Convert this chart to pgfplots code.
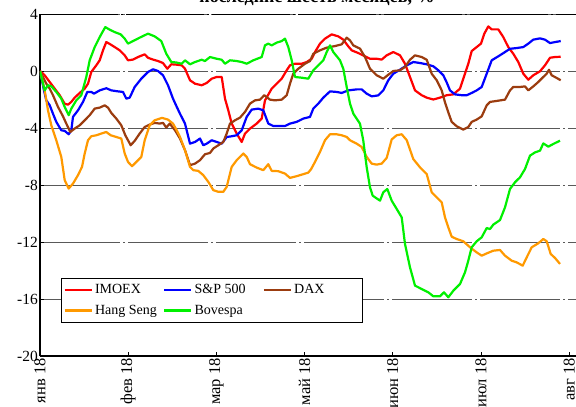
\documentclass[border=0pt]{standalone}
\usepackage{pgfplots}
\pgfplotsset{compat=1.18}
\usepackage{fontspec}
\setmainfont{Liberation Serif}
\definecolor{cimoex}{RGB}{255,0,0}
\definecolor{csp}{RGB}{0,0,255}
\definecolor{cdax}{RGB}{155,60,15}
\definecolor{chs}{RGB}{255,153,0}
\definecolor{cbov}{RGB}{0,240,0}
\begin{document}
\begin{tikzpicture}
\begin{axis}[
  scale only axis, width=540pt, height=342pt,
  xmin=0, xmax=540, ymin=-20, ymax=4,
  axis x line*=bottom, axis y line*=left,
  axis line style={black, line width=1.3pt, -},
  ytick={-20,-16,-12,-8,-4,0,4},
  yticklabels={-20,-16,-12,-8,-4,0,4},
  xtick={0,88.2,176.4,264.6,352.8,441,529.2},
  xticklabels={янв 18,фев 18,мар 18,май 18,июн 18,июл 18,авг 18},
  xticklabel style={rotate=90, anchor=east, font=\fontsize{16.5}{16.5}\selectfont, inner sep=2pt},
  yticklabel style={font=\fontsize{15.5}{15.5}\selectfont, inner sep=2pt},
  tick align=inside, major tick length=4pt, tick style={black, line width=0.8pt},
  ymajorgrids,
  grid style={gray!70!black, line width=0.9pt, dash pattern=on 80pt off 3pt on 2pt off 3pt},
  legend columns=3,
  legend cell align=left,
  legend style={at={(0.0389,0.228)}, anchor=north west, draw=black, line width=0.8pt,
    font=\fontsize{14}{14}\selectfont, inner xsep=2pt, inner ysep=4pt,
    row sep=6pt,
    /tikz/every even column/.append style={column sep=2pt}},
  legend image code/.code={\draw[#1, line width=2.6pt] (0pt,0pt) -- (27pt,0pt);},
  every axis plot/.append style={line width=2.2pt, line join=round, no markers},
]
\addplot[cimoex] coordinates {
(0,0) (4.7,-0.3) (9.7,-0.77) (14.7,-1.24) (19.7,-1.7) (24.7,-2.3) (28,-2.36) (31.3,-2.17)
(34.7,-1.87) (39.7,-1.54) (44.7,-1.24) (48,-0.89) (51.3,-0.07) (56.3,0.4) (59.7,0.75)
(63,1.45) (66.3,2.03) (69.7,1.9) (74.7,1.68) (79.7,1.45) (84.7,1.1) (88,0.75) (93,0.8)
(98,0.98) (104.7,1.17) (108,0.93) (113,0.8) (118,0.7) (123,0.56) (127.3,0.16) (131.3,0.47)
(136,0.45) (141.7,0.4) (145,0.16) (150,-0.65) (155,-0.89) (161.7,-1.0) (166.7,-0.84)
(171.7,-0.54) (176.7,-0.42) (181.7,-0.42) (185,-1.94) (188.3,-2.76) (191.7,-3.69)
(196.7,-4.39) (201.7,-4.98) (205,-4.39) (210,-4.04) (216.7,-3.69) (221.7,-3.34) (225,-2.06)
(231.7,-1.24) (236.7,-0.89) (241.7,-0.54) (246.7,0.05) (250,0.4) (255,0.51) (261.7,0.51)
(266.7,0.63) (271.7,0.86) (275,1.33) (280,1.92) (285,2.27) (291.7,2.57) (298.3,2.43)
(303.3,2.2) (308.3,1.73) (311.7,1.45) (318.3,1.26) (325,1.03) (330,0.86) (336.7,0.86)
(341.7,0.8) (346.7,1.1) (353.3,1.33) (360,1.1) (365,0.51) (370,-0.42) (375,-1.36)
(381.7,-1.7) (386.7,-1.87) (393.3,-2.0) (400,-1.87) (406.7,-1.7) (413.3,-1.64) (420,-1.24)
(423.3,-0.54) (428.3,0.51) (431.7,1.4) (436.7,1.68) (441,1.92) (444.3,2.62) (448.3,3.13)
(451.7,2.92) (458.3,2.92) (463.3,2.38) (468.3,1.68) (473.3,1.21) (478.3,0.63) (483.3,-0.19)
(488.3,-0.61) (493.3,-0.3) (500,-0.02) (505,0.4) (510,0.93) (515,0.98) (520.7,1.0)
};
\addlegendentry{\makebox[64pt][l]{IMOEX}}
\addplot[csp] coordinates {
(0,0) (4,-1.36) (6.3,-2.06) (9.7,-2.4) (13,-3.0) (16.3,-3.57) (21.3,-4.16) (24.7,-4.2)
(28.7,-4.44) (31.3,-4.16) (33,-3.22) (38,-2.76) (43,-2.17) (47.3,-1.47) (51.3,-1.47)
(54,-1.59) (59.7,-1.36) (66.3,-1.21) (71.3,-1.36) (78,-1.43) (83,-1.47) (86.3,-1.94)
(89.7,-1.87) (94.7,-1.12) (101.3,-0.54) (108,-0.07) (113,0.12) (118,0) (123,-0.3)
(128,-1.0) (133,-1.94) (136,-2.4) (140,-3.0) (145,-3.69) (150,-5.1) (155,-4.98) (160,-4.74)
(163.3,-5.21) (166.7,-5.1) (171.7,-4.86) (176.7,-4.98) (181.7,-5.1) (186.7,-4.63)
(191.7,-4.58) (196.7,-4.51) (201.7,-4.16) (206.7,-3.22) (211.7,-2.71) (218.3,-2.64)
(223.3,-2.76) (228.3,-3.69) (233.3,-3.86) (240,-3.86) (245,-3.86) (250,-3.69) (256.7,-3.57)
(263.3,-3.34) (270,-3.22) (273.3,-2.64) (278.3,-2.29) (283.3,-1.87) (290,-1.43)
(296.7,-1.47) (301.7,-1.54) (308.3,-1.36) (316.7,-1.29) (321.7,-1.29) (326.7,-1.59)
(331.7,-1.78) (338.3,-1.71) (343.3,-1.36) (348.3,-0.65) (353.3,-0.19) (360,0.09)
(366.7,0.4) (373.3,0.63) (380,0.56) (386.7,0.47) (393.3,0.33) (398.3,0.05) (403.3,-0.3)
(406.7,-0.8) (410,-1.36) (415,-1.64) (421.7,-1.7) (426.7,-1.7) (431.7,-1.54) (436.7,-1.36)
(441.7,-1.12) (446.7,-0.19) (451.7,0.75) (458.3,1.03) (465,1.33) (470,1.56) (476.7,1.61)
(483.3,1.68) (488.3,1.92) (493.3,2.2) (500,2.29) (505,2.2) (510,1.96) (515,2.03) (520.7,2.1)
};
\addlegendentry{\makebox[64pt][l]{S\&P 500}}
\addplot[cdax] coordinates {
(0,0) (6.3,-0.89) (9.7,-1.24) (13,-1.7) (18,-2.52) (23,-3.18) (26.3,-3.69) (30.3,-4.28)
(34.7,-4.04) (39.7,-3.81) (44.7,-3.46) (49.7,-3.1) (54.7,-2.64) (59.7,-2.57) (64.7,-2.41)
(68,-2.57) (71.3,-2.94) (76.3,-3.34) (81.3,-3.81) (85.3,-4.51) (90.7,-5.21) (94.7,-4.9)
(99.7,-4.39) (104.7,-3.93) (109.7,-3.76) (114.7,-3.64) (119.7,-3.69) (123,-3.64)
(126.3,-3.97) (129.7,-3.69) (135,-4.16) (140,-4.74) (145,-5.56) (150,-6.61) (155,-6.5)
(160,-6.26) (165,-5.84) (170,-5.75) (173.3,-5.44) (178.3,-5.21) (183.3,-4.98) (186.7,-4.39)
(190,-3.69) (195,-3.46) (200,-3.27) (205,-2.87) (210,-2.29) (215,-2.06) (220,-2.01)
(224.3,-1.7) (230,-2.01) (235,-2.06) (241.7,-2.01) (246.7,-1.7) (250,-0.89) (253.3,-0.19)
(258.3,0.16) (265,0.51) (270,0.7) (273.3,1.21) (280,1.45) (286.7,1.64) (295,1.75)
(301.7,1.87) (306.7,2.34) (310,2.15) (313.3,1.8) (320,1.57) (325,0.98) (330,0.16)
(336.7,-0.3) (343.3,-0.54) (348.3,-0.26) (353.3,0) (360,0.05) (365,0.28) (370,0.79)
(375,1.1) (381.7,0.98) (386.7,0.79) (391.7,-0.19) (396.7,-0.65) (401.7,-1.36) (405,-2.2)
(408.3,-2.9) (411.7,-3.57) (416.7,-3.88) (423.3,-4.11) (428.3,-3.93) (431.7,-3.57)
(436.7,-3.41) (441.7,-3.18) (446.7,-2.41) (450,-2.17) (456.7,-2.1) (465,-2.01) (470,-1.36)
(473.3,-1.12) (480,-1.12) (485,-1.08) (488.3,-1.36) (493.3,-1.08) (498.3,-0.77)
(503.3,-0.42) (506.7,-0.19) (509,0.09) (511.7,-0.3) (516.7,-0.49) (520.7,-0.65)
};
\addlegendentry{\makebox[64pt][l]{DAX}}
\addplot[chs] coordinates {
(0,0) (4.7,-1.36) (8,-2.76) (11.3,-3.81) (16.3,-4.86) (21.3,-6.03) (24.7,-7.66) (28.7,-8.25)
(33,-7.9) (38,-7.31) (42,-6.73) (44.7,-5.79) (48,-4.86) (51.3,-4.58) (56.3,-4.51)
(61.3,-4.39) (66.3,-4.28) (70.7,-4.51) (76.3,-4.63) (81.3,-4.74) (84.7,-5.79) (88,-6.38)
(92,-6.68) (96.3,-6.38) (101.3,-6.03) (104.7,-4.86) (109.7,-3.81) (114.7,-3.46) (122,-3.29)
(128,-3.41) (133,-3.69) (136.3,-4.1) (140,-4.63) (145,-5.56) (150,-6.73) (153.3,-6.96)
(158.3,-7.01) (163.3,-7.31) (168.3,-7.78) (173.3,-8.36) (178.3,-8.48) (183.3,-8.48)
(186.7,-8.13) (191.7,-6.73) (196.7,-6.26) (203.3,-5.79) (206.7,-6.03) (210,-6.54)
(216.7,-6.78) (223.3,-6.96) (228.3,-6.54) (231.7,-7.01) (238.3,-7.03) (245,-7.2) (250,-7.5)
(256.7,-7.38) (263.3,-7.24) (268.3,-7.13) (271,-6.9) (275,-6.38) (280,-5.68) (285,-4.86)
(290,-4.44) (296.7,-4.44) (301.7,-4.51) (306.7,-4.63) (310,-4.86) (316.7,-5.1)
(321.7,-5.33) (326.7,-6.03) (331.7,-6.5) (336.7,-6.57) (341.7,-6.5) (346.7,-6.1)
(351.7,-4.8) (356.7,-4.51) (361.7,-4.44) (366.7,-4.85) (373.3,-6.18) (380,-6.76)
(386.7,-7.23) (391.7,-8.51) (395,-8.75) (401.7,-9.22) (405,-10.27) (408.3,-10.97)
(411.7,-11.63) (416.7,-11.79) (423.3,-11.95) (430,-12.37) (436.7,-12.73) (441.7,-12.96)
(446.7,-12.8) (453.3,-12.61) (460,-12.56) (465,-12.96) (471.7,-13.31) (476.7,-13.43)
(482.7,-13.66) (486.7,-13.08) (491.7,-12.37) (498.3,-12.09) (503.3,-11.79) (506.7,-11.95)
(510.7,-12.84) (515,-13.12) (520,-13.54)
};
\addlegendentry{\makebox[64pt][l]{Hang Seng}}
\addplot[cbov] coordinates {
(0,0) (4.7,-1.36) (8,-1.0) (11.3,-1.07) (16.3,-1.47) (21.3,-1.94) (24.7,-2.52) (28.7,-3.1)
(31.3,-2.64) (36.3,-2.06) (41.3,-1.7) (46.3,-0.42) (49.7,0.75) (54.7,1.68) (59.7,2.38)
(63,2.8) (65.3,3.08) (69.7,2.9) (74.7,2.73) (80.7,2.57) (84.7,2.27) (88,1.92) (93,2.1)
(99.7,2.34) (108,2.62) (114.7,2.43) (121.3,2.1) (126.3,1.21) (131.3,0.63) (136,0.6)
(141.7,0.51) (145,0.75) (150,0.47) (155,0.63) (161.7,0.79) (165,0.7) (170,0.98)
(176.7,0.86) (181.7,0.79) (185,0.51) (190,0.75) (196.7,0.7) (201.7,0.63) (206.7,0.51)
(213.3,0.75) (221.7,0.98) (225,1.8) (228.3,1.92) (231.7,1.8) (236.7,1.99) (241.7,2.1)
(245,2.27) (248.3,1.68) (251.7,0.75) (255,-0.42) (261.7,-0.47) (268.3,-0.54) (273.3,0.05)
(278.3,0.4) (283.3,0.75) (286.7,1.33) (290,1.8) (293.3,1.33) (300,0.75) (303.3,0.16)
(306.7,-1.12) (310,-2.29) (313.3,-2.99) (320,-3.7) (323.3,-4.89) (326.7,-6.76) (330,-8.16)
(332.7,-8.75) (340,-9.1) (343.3,-8.51) (347.3,-8.28) (351.7,-9.1) (356.7,-9.68)
(361.7,-10.27) (365,-12.14) (370,-13.78) (375,-15.06) (381.7,-15.3) (388.3,-15.53)
(393.3,-15.81) (400,-15.81) (404,-15.53) (408.3,-15.88) (413.3,-15.42) (420,-14.95)
(425,-14.13) (428.3,-13.31) (431.7,-12.37) (436.7,-11.95) (441.7,-11.67) (446.7,-11.02)
(450,-11.09) (453.3,-10.78) (460,-10.46) (465,-9.57) (470,-8.28) (475,-7.81) (480,-7.46)
(485,-6.88) (490,-5.94) (495,-5.71) (500,-5.59) (503.3,-5.08) (508.3,-5.31) (513.3,-5.12)
(520,-4.89)
};
\addlegendentry{Bovespa}
\draw[black, line width=1.3pt, dash pattern=on 78pt off 3pt on 2pt off 3pt] (rel axis cs:0,1) -- (rel axis cs:1,1);
\coordinate (O) at (rel axis cs:0,0);
\end{axis}
\node[font=\bfseries\fontsize{18}{18}\selectfont, anchor=base] at ([shift={(277pt,353pt)}]O) {последние шесть месяцев, \%};
\pgfresetboundingbox
\path[use as bounding box] ([shift={(-40pt,-51pt)}]O) rectangle ([shift={(536pt,356pt)}]O);
\end{tikzpicture}
\end{document}
